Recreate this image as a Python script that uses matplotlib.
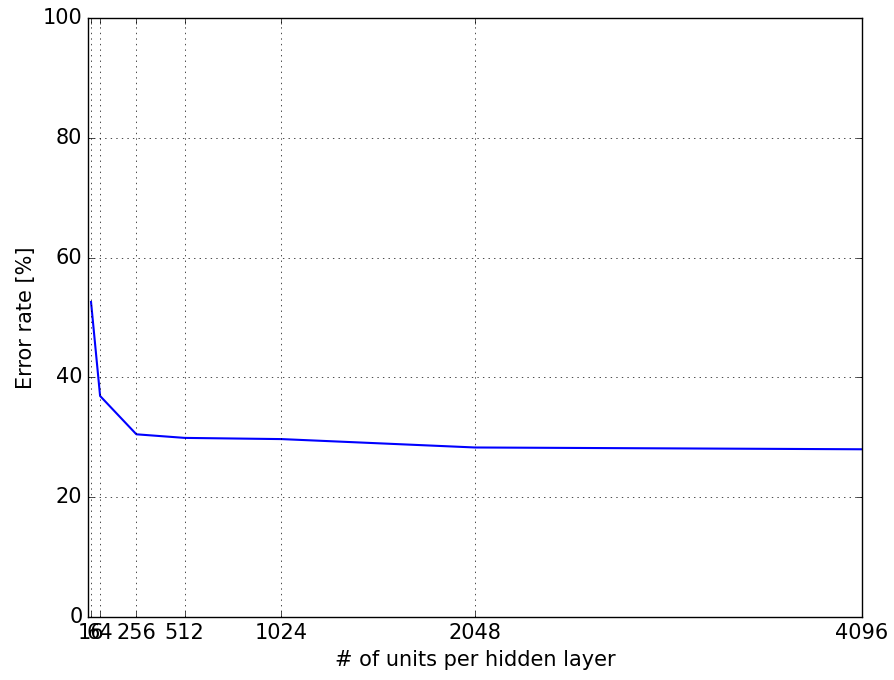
import matplotlib
matplotlib.use("Agg")
import matplotlib.pyplot as plt

units = [16, 64, 256, 512, 1024, 2048, 4096]
error_rate = [52.6, 36.9, 30.5, 29.9, 29.7, 28.3, 28.0]
xtick_labels = ["16", "64", "256", "512", "1024", "2048", "4096"]

plt.style.use("classic")
plt.rcParams["font.size"] = 15
fig = plt.figure(figsize=(8.95, 6.8), dpi=100)
fig.patch.set_facecolor("white")
ax = fig.add_axes([88/895, 1-617/680, (862-88)/895, (617-18)/680])
ax.plot(units, error_rate, color="b", linewidth=1.5)
ax.set_xlim(0, 4096)
ax.set_ylim(0, 100)
ax.set_xticks(units)
ax.set_xticklabels(xtick_labels)
ax.set_yticks([0, 20, 40, 60, 80, 100])
ax.tick_params(labelsize=15)
ax.grid(True)
ax.set_xlabel("# of units per hidden layer", fontsize=15)
ax.set_ylabel("Error rate [%]", fontsize=15)
fig.savefig("out.png", dpi=100, facecolor="white")
